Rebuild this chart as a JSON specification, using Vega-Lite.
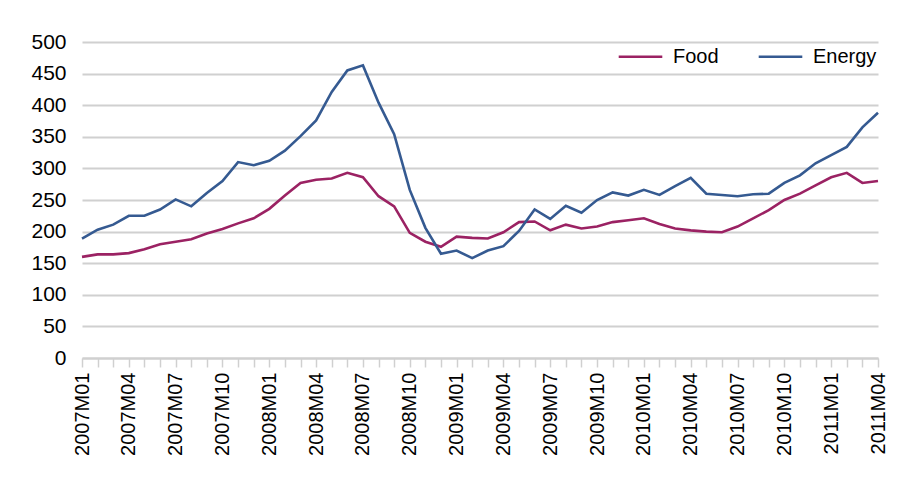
{
  "$schema": "https://vega.github.io/schema/vega-lite/v6.json",
  "width": 796,
  "height": 316,
  "autosize": {"type": "none"},
  "padding": {"left": 82, "top": 42, "right": 29, "bottom": 122},
  "background": "white",
  "config": {
    "view": {"stroke": null},
    "font": "Liberation Sans, Arial, sans-serif",
    "axis": {"labelFont": "Liberation Sans, Arial, sans-serif", "labelColor": "#000000"},
    "legend": {"labelFont": "Liberation Sans, Arial, sans-serif"}
  },
  "data": {
    "values": [
      {"month": "2007M01", "Food": 160, "Energy": 189},
      {"month": "2007M02", "Food": 164, "Energy": 203},
      {"month": "2007M03", "Food": 164, "Energy": 211},
      {"month": "2007M04", "Food": 166, "Energy": 225},
      {"month": "2007M05", "Food": 172, "Energy": 225},
      {"month": "2007M06", "Food": 180, "Energy": 235},
      {"month": "2007M07", "Food": 184, "Energy": 251},
      {"month": "2007M08", "Food": 188, "Energy": 240},
      {"month": "2007M09", "Food": 197, "Energy": 261},
      {"month": "2007M10", "Food": 204, "Energy": 280},
      {"month": "2007M11", "Food": 213, "Energy": 310},
      {"month": "2007M12", "Food": 221, "Energy": 305},
      {"month": "2008M01", "Food": 236, "Energy": 312},
      {"month": "2008M02", "Food": 257, "Energy": 328},
      {"month": "2008M03", "Food": 277, "Energy": 351},
      {"month": "2008M04", "Food": 282, "Energy": 376},
      {"month": "2008M05", "Food": 284, "Energy": 421},
      {"month": "2008M06", "Food": 293, "Energy": 455},
      {"month": "2008M07", "Food": 286, "Energy": 463},
      {"month": "2008M08", "Food": 256, "Energy": 404},
      {"month": "2008M09", "Food": 240, "Energy": 354},
      {"month": "2008M10", "Food": 198, "Energy": 266},
      {"month": "2008M11", "Food": 184, "Energy": 206},
      {"month": "2008M12", "Food": 176, "Energy": 165},
      {"month": "2009M01", "Food": 192, "Energy": 170},
      {"month": "2009M02", "Food": 190, "Energy": 158},
      {"month": "2009M03", "Food": 189, "Energy": 170},
      {"month": "2009M04", "Food": 199, "Energy": 177},
      {"month": "2009M05", "Food": 215, "Energy": 201},
      {"month": "2009M06", "Food": 216, "Energy": 235},
      {"month": "2009M07", "Food": 202, "Energy": 220},
      {"month": "2009M08", "Food": 211, "Energy": 241},
      {"month": "2009M09", "Food": 205, "Energy": 230},
      {"month": "2009M10", "Food": 208, "Energy": 250},
      {"month": "2009M11", "Food": 215, "Energy": 262},
      {"month": "2009M12", "Food": 218, "Energy": 257},
      {"month": "2010M01", "Food": 221, "Energy": 266},
      {"month": "2010M02", "Food": 212, "Energy": 258},
      {"month": "2010M03", "Food": 205, "Energy": 272},
      {"month": "2010M04", "Food": 202, "Energy": 285},
      {"month": "2010M05", "Food": 200, "Energy": 260},
      {"month": "2010M06", "Food": 199, "Energy": 258},
      {"month": "2010M07", "Food": 208, "Energy": 256},
      {"month": "2010M08", "Food": 221, "Energy": 259},
      {"month": "2010M09", "Food": 234, "Energy": 260},
      {"month": "2010M10", "Food": 250, "Energy": 277},
      {"month": "2010M11", "Food": 260, "Energy": 289},
      {"month": "2010M12", "Food": 273, "Energy": 308},
      {"month": "2011M01", "Food": 286, "Energy": 321},
      {"month": "2011M02", "Food": 293, "Energy": 334},
      {"month": "2011M03", "Food": 277, "Energy": 365},
      {"month": "2011M04", "Food": 280, "Energy": 388}
    ]
  },
  "transform": [{"fold": ["Food", "Energy"], "as": ["series", "value"]}],
  "mark": {"type": "line", "strokeWidth": 2.6, "strokeJoin": "miter"},
  "encoding": {
    "x": {
      "field": "month",
      "type": "ordinal",
      "sort": null,
      "scale": {"type": "point", "padding": 0},
      "axis": {
        "title": null,
        "labelAngle": 270,
        "labelAlign": "right",
        "labelBaseline": "middle",
        "labelFontSize": 20,
        "labelPadding": 5,
        "labelOverlap": false,
        "labelExpr": "test(/M(01|04|07|10)$/, datum.value) ? datum.value : ''",
        "tickSize": 9,
        "tickColor": "#d0d0d0",
        "tickWidth": 1.5,
        "domainColor": "#d0d0d0",
        "domainWidth": 2,
        "grid": false
      }
    },
    "y": {
      "field": "value",
      "type": "quantitative",
      "scale": {"domain": [0, 500], "nice": false},
      "axis": {
        "title": null,
        "values": [0, 50, 100, 150, 200, 250, 300, 350, 400, 450, 500],
        "labelFontSize": 21,
        "labelPadding": 16,
        "tickSize": 0,
        "domain": false,
        "grid": true,
        "gridColor": "#d0d0d0",
        "gridWidth": 2
      }
    },
    "color": {
      "field": "series",
      "type": "nominal",
      "scale": {"domain": ["Food", "Energy"], "range": ["#9b2263", "#355a91"]},
      "legend": {
        "title": null,
        "orient": "none",
        "legendX": 535,
        "legendY": -9,
        "direction": "horizontal",
        "symbolType": "stroke",
        "symbolSize": 1900,
        "symbolStrokeWidth": 2.6,
        "labelFontSize": 20,
        "labelOffset": 9,
        "columnPadding": 34,
        "labelColor": "#000000"
      }
    }
  }
}
